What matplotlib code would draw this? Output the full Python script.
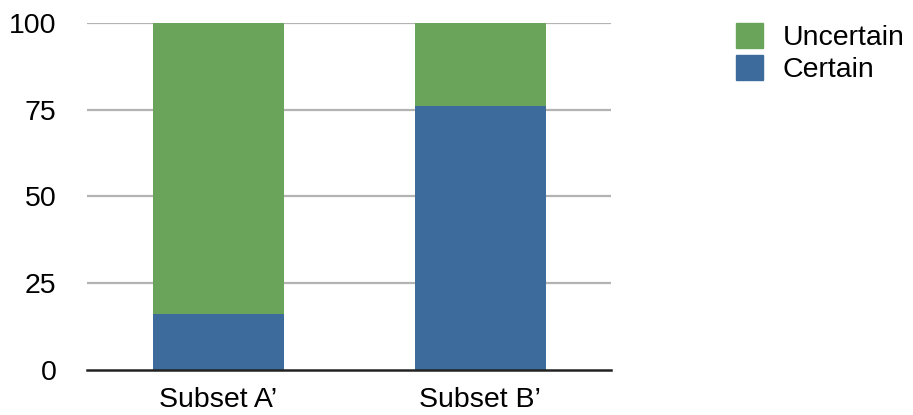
import matplotlib
matplotlib.use("Agg")
import matplotlib.pyplot as plt
from matplotlib.patches import Patch

plt.rcParams['font.family'] = ['Liberation Sans', 'DejaVu Sans']

categories = ["Subset A\u2019", "Subset B\u2019"]
certain = [16, 76]
uncertain = [84, 24]
yticks = [0, 25, 50, 75, 100]

c_green = "#6AA45A"
c_blue = "#3D6C9C"
fs = 20.5

fig = plt.figure(figsize=(9.13, 4.15), dpi=100)
ax = fig.add_axes([87/913, 1-370/415, (611-87)/913, (370-23)/415])
x = list(range(len(categories)))
ax.bar(x, certain, width=0.5, color=c_blue, zorder=3)
ax.bar(x, uncertain, bottom=certain, width=0.5, color=c_green, zorder=3)
ax.set_xlim(-0.5, 1.5)
ax.set_ylim(0, 100)
ax.set_yticks(yticks)
ax.set_xticks(x)
ax.set_xticklabels(categories)
ax.tick_params(axis='both', length=0, labelsize=fs)
ax.tick_params(axis='y', pad=22)
ax.tick_params(axis='x', pad=12)
for t in yticks[1:]:
    ax.axhline(t, color="#b3b3b3", linewidth=1.6, zorder=1)
for s in ['top', 'right', 'left']:
    ax.spines[s].set_visible(False)
ax.spines['bottom'].set_linewidth(1.8)
ax.spines['bottom'].set_color('#222222')
ax.spines['bottom'].set_zorder(4)

handles = [Patch(color=c_green, label="Uncertain"), Patch(color=c_blue, label="Certain")]
fig.legend(handles=handles, loc='upper left', bbox_to_anchor=(736/913, 1-23/415),
           frameon=False, fontsize=fs, handlelength=0.95, handleheight=0.95,
           handletextpad=0.7, labelspacing=0.15, borderaxespad=0, borderpad=0)

fig.savefig("out.png", dpi=100)
